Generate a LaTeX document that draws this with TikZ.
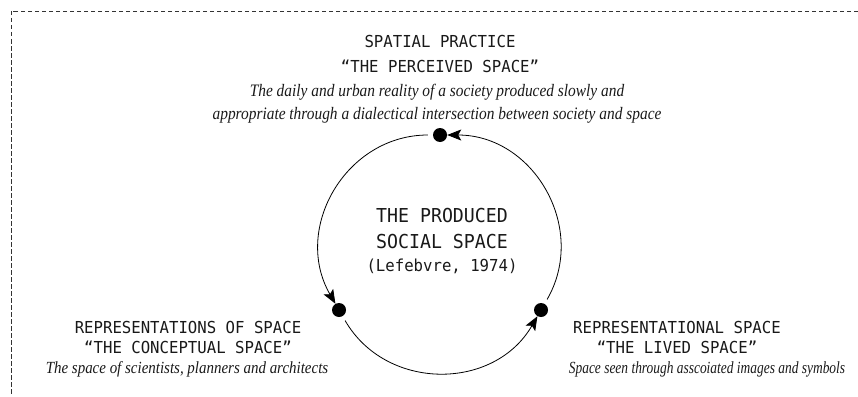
\documentclass[tikz,border=0pt]{standalone}
\usepackage{fontspec}
\usepackage{tikz}
\usetikzlibrary{positioning,calc,arrows.meta}
\newfontfamily\capsfont[FakeStretch=0.95]{DejaVu Sans Mono}
\newfontfamily\descfont[FakeStretch=0.88]{Liberation Serif}
\newfontfamily\narrowdescfont[FakeStretch=0.79]{Liberation Serif}

\begin{document}
\begin{tikzpicture}[x=1pt, y=1pt,
    dot/.style={circle, fill=black, inner sep=0pt, minimum size=14pt},
    flow/.style={line width=0.8pt, -{Stealth[length=14pt, width=11pt, inset=3pt]}, bend right=60, looseness=1.14, shorten <=5pt},
    caps/.style={align=center, text=black!90, font=\capsfont\fontsize{16.5}{20}\selectfont},
    bigcaps/.style={align=center, text=black!90, font=\capsfont\fontsize{19.2}{26}\selectfont},
    desc/.style={align=center, text=black!90, font=\descfont\itshape\fontsize{17}{23}\selectfont}]
    \useasboundingbox (0,0) rectangle (858,-396);

    % frame
    \draw[dashed, dash pattern=on 4.5pt off 2.5pt, line width=0.7pt, black!80] (858,-11) -- (11,-11) -- (11,-396);

    % the three moments
    \node[dot] (perceived) at (440,-135) {};
    \node[dot] (conceptual) at (339,-310) {};
    \node[dot] (lived) at (541,-310) {};

    \draw[flow] (perceived) to (conceptual);
    \draw[flow] (conceptual) to (lived);
    \draw[flow] (lived) to (perceived);

    % centre
    \node[bigcaps] (produced) at (442,-229) {THE PRODUCED\\SOCIAL SPACE};
    \node[caps] (source) at (442,-266) {(Lefebvre, 1974)};

    % spatial practice
    \node[caps, font=\capsfont\fontsize{16.5}{25}\selectfont] (spTitle) at (440,-54) {SPATIAL PRACTICE\\“THE PERCEIVED SPACE”};
    \node[desc, font=\descfont\itshape\fontsize{17.5}{23}\selectfont] (spText) at (437,-104) {The daily and urban reality of a society produced slowly and\\appropriate through a dialectical intersection between society and space};

    % representations of space
    \node[caps] (rosTitle) at (188,-337) {REPRESENTATIONS OF SPACE\\“THE CONCEPTUAL SPACE”};
    \node[desc] (rosText) at (187,-369) {The space of scientists, planners and architects};

    % representational space
    \node[caps] (rsTitle) at (677,-337) {REPRESENTATIONAL SPACE\\“THE LIVED SPACE”};
    \node[desc, font=\narrowdescfont\itshape\fontsize{17}{23}\selectfont] (rsText) at (707,-369) {Space seen through asscoiated images and symbols};
\end{tikzpicture}
\end{document}
